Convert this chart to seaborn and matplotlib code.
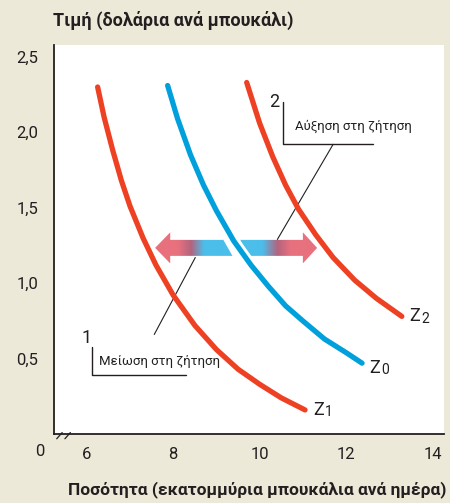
import numpy as np
import pandas as pd
import matplotlib
matplotlib.use("Agg")
import matplotlib.pyplot as plt
import matplotlib.patheffects as pe
from matplotlib.patches import Polygon
import seaborn as sns

# demand curves (quantity in millions of bottles, price in dollars)
q_z1 = [6.25, 6.40, 6.60, 6.80, 7.00, 7.30, 7.60, 8.00, 8.50, 9.00, 9.50, 10.00, 10.50, 11.05]
p_z1 = [2.30, 2.10, 1.88, 1.68, 1.51, 1.30, 1.12, 0.92, 0.72, 0.56, 0.43, 0.33, 0.24, 0.16]
q_z0 = [7.87, 8.10, 8.40, 8.70, 9.00, 9.40, 9.80, 10.20, 10.60, 11.00, 11.50, 12.00, 12.37]
p_z0 = [2.31, 2.09, 1.85, 1.65, 1.48, 1.28, 1.12, 0.98, 0.85, 0.75, 0.63, 0.54, 0.47]
q_z2 = [9.70, 10.00, 10.30, 10.60, 10.90, 11.30, 11.70, 12.20, 12.70, 13.29]
p_z2 = [2.33, 2.06, 1.84, 1.65, 1.49, 1.32, 1.17, 1.02, 0.90, 0.78]

x_ticks = [6, 8, 10, 12, 14]
x_labels = ["6", "8", "10", "12", "14"]
y_ticks = [0.5, 1.0, 1.5, 2.0, 2.5]
y_labels = ["0,5", "1,0", "1,5", "2,0", "2,5"]

RED = "#EE4123"
BLUE = "#00A0DC"
PINK = "#E8717E"
MAUVE = "#B4647E"
LBLUE = "#4CBEEA"
BG = "#ECE9D8"
INK = "#231F20"

df = pd.concat([
    pd.DataFrame({"q": q_z1, "p": p_z1, "curve": "Z1"}),
    pd.DataFrame({"q": q_z0, "p": p_z0, "curve": "Z0"}),
    pd.DataFrame({"q": q_z2, "p": p_z2, "curve": "Z2"}),
])

sns.set_theme(style="white")
plt.rcParams["font.family"] = ["Roboto", "DejaVu Sans"]

fig = plt.figure(figsize=(4.5, 5.03), dpi=100, facecolor=BG)
ax = fig.add_axes([0.12, 0.137, 0.867, 0.774])
ax.set_facecolor("white")

colors = {"Z1": RED, "Z0": BLUE, "Z2": RED}
for name in ["Z1", "Z2", "Z0"]:
    sub = df[df["curve"] == name]
    sns.lineplot(data=sub, x="q", y="p", sort=False, estimator=None,
                 color=colors[name], linewidth=3.8, ax=ax, zorder=4)
    if name == "Z0":
        ax.lines[-1].set_path_effects([pe.Stroke(linewidth=8, foreground="white"), pe.Normal()])

# gradient double arrow
yc, bh, hh = 1.234, 0.053, 0.103
left_poly = [(7.58, yc), (7.93, yc + hh), (7.93, yc + bh), (9.16, yc + bh),
             (9.37, yc - bh), (7.93, yc - bh), (7.93, yc - hh)]
right_poly = [(11.33, yc), (11.0, yc + hh), (11.0, yc + bh), (9.55, yc + bh),
              (9.74, yc - bh), (11.0, yc - bh), (11.0, yc - hh)]
stops = [7.58, 8.10, 8.40, 8.70, 10.05, 10.40, 10.70, 11.33]
stop_cols = [PINK, PINK, MAUVE, LBLUE, LBLUE, MAUVE, PINK, PINK]
rgb = np.array([matplotlib.colors.to_rgb(c) for c in stop_cols])
xs = np.linspace(7.5, 11.4, 400)
grad = np.stack([np.interp(xs, stops, rgb[:, k]) for k in range(3)], axis=-1)[None, :, :]
for poly in (left_poly, right_poly):
    patch = Polygon(poly, closed=True, facecolor="none", edgecolor="none")
    ax.add_patch(patch)
    im = ax.imshow(grad, extent=(7.5, 11.4, yc - hh, yc + hh), aspect="auto",
                   origin="lower", zorder=2)
    im.set_clip_path(patch)

# curve labels
for (x, y, d) in [(11.24, 0.16, "1"), (12.53, 0.44, "0"), (13.46, 0.78, "2")]:
    ax.text(x, y, "Z", fontsize=13, va="center", ha="left", color=INK)
    ax.annotate(d, xy=(x, y), xytext=(8.5, -4.6), textcoords="offset points",
                fontsize=10, ha="left", va="baseline", color=INK)

# annotation 1 - decrease
ax.text(6.0, 0.64, "1", fontsize=13, ha="center", va="center", color=INK)
ax.plot([6.13, 6.13, 8.30], [0.58, 0.39, 0.39], color=INK, lw=1)
ax.text(6.29, 0.48, "Μείωση στη ζήτηση", fontsize=9.5, ha="left", va="center", color=INK)
ax.plot([7.56, 8.51], [0.66, 1.17], color=INK, lw=0.8, zorder=3)

# annotation 2 - increase
ax.text(10.34, 2.20, "2", fontsize=13, ha="center", va="center", color=INK)
ax.plot([10.55, 10.55, 12.63], [2.20, 1.92, 1.92], color=INK, lw=1)
ax.text(10.82, 2.04, "Αύξηση στη ζήτηση", fontsize=9.5, ha="left", va="center", color=INK)
ax.plot([11.70, 10.41], [1.92, 1.29], color=INK, lw=0.8, zorder=3)

ax.set_xlim(5.24, 14.27)
ax.set_ylim(0, 2.58)
ax.set_xticks(x_ticks)
ax.set_xticklabels(x_labels)
ax.set_yticks(y_ticks)
ax.set_yticklabels(y_labels)
ax.set_xlabel("")
ax.set_ylabel("")
ax.tick_params(axis="both", direction="inout", length=9, width=1, color="#3a3a3a",
               labelsize=12, labelcolor=INK)
ax.tick_params(axis="y", pad=7)
ax.tick_params(axis="x", pad=5)
for s in ["top", "right"]:
    ax.spines[s].set_visible(False)
for s in ["left", "bottom"]:
    ax.spines[s].set_color(INK)
    ax.spines[s].set_linewidth(1.3)

# axis break marks
for x0 in [0.007, 0.028]:
    ax.plot([x0, x0 + 0.014], [-0.012, 0.004], transform=ax.transAxes,
            color=INK, lw=0.9, clip_on=False)

fig.text(40 / 450, 1 - 452 / 503, "0", fontsize=12, ha="center", va="center", color=INK)
fig.text(53 / 450, 1 - 20 / 503, "Τιμή (δολάρια ανά μπουκάλι)", fontsize=13,
         fontweight="bold", ha="left", va="center", color=INK)
fig.text(446 / 450, 1 - 490 / 503, "Ποσότητα (εκατομμύρια μπουκάλια ανά ημέρα)", fontsize=12.5,
         fontweight="bold", ha="right", va="center", color=INK)

fig.savefig("out.png", dpi=100, facecolor=BG)
